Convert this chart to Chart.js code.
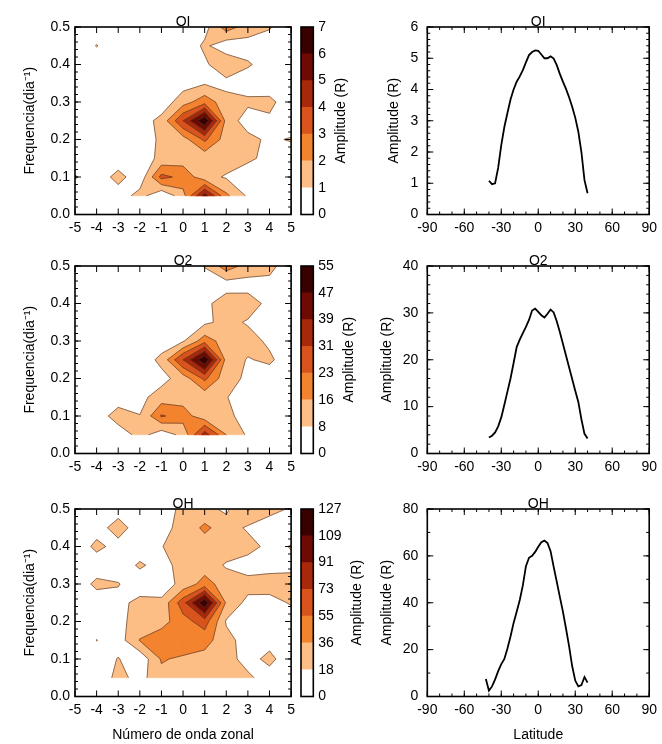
<!DOCTYPE html>
<html>
<head>
<meta charset="utf-8">
<title>Amplitudes OI, O2, OH</title>
<script src="https://cdn.jsdelivr.net/npm/chart.js@4.4.0/dist/chart.umd.min.js"></script>
<style>
  body { margin: 0; background: #fff; width: 662px; height: 744px; overflow: hidden; position: relative; }
  canvas { position: absolute; }
</style>
</head>
<body>
<script>
// ---- dados ----
const waveNumbers = [-5, -4, -3, -2, -1, 0, 1, 2, 3, 4, 5];
const frequencies = [0.05, 0.10, 0.15, 0.20, 0.25, 0.30, 0.35, 0.40, 0.45, 0.50];

const levelsOI = [0, 1, 2, 3, 4, 5, 6, 7];
const levelsO2 = [0, 8, 16, 23, 31, 39, 47, 55];
const levelsOH = [0, 18, 36, 55, 73, 91, 109, 127];

// amplitude (R) por frequencia (linhas, de 0.05 a 0.50) e numero de onda (colunas, de -5 a 5)
const ampOI = [
  [0.3, 0.3, 0.4, 1.4, 0.1, 1.6, 5.5, 2.2, 0.84, 0.3, 0.2],
  [1.1, 0.3, 1.4, 0.3, 3.3, 2.7, 1.33, 0.9, 0.4, 0.3, 0.3],
  [0.2, 0.2, 0.3, 0.5, 1.24, 1.5, 1.3, 1.5, 1.2, 0.7, 0.3],
  [0.1, 0.1, 0.2, 0.4, 1.2, 1.56, 3.2, 1.5, 1.3, 0.8, 1.1],
  [0.1, 0.1, 0.2, 0.5, 1.3, 4.0, 7.0, 1.6, 0.5, 0.8, 0.3],
  [0.1, 0.1, 0.1, 0.2, 0.4, 1.54, 2.6, 1.4, 1.2, 1.3, 0.3],
  [0.1, 0.1, 0.1, 0.1, 0.2, 0.6, 0.9, 0.67, 0.5, 0.3, 0.2],
  [0.1, 0.2, 0.1, 0.1, 0.1, 0.3, 0.8, 1.8, 1.1, 0.6, 0.2],
  [0.1, 1.05, 0.2, 0.1, 0.1, 0.2, 1.2, 0.35, 0.6, 0.4, 0.2],
  [0.1, 0.2, 0.1, 0.1, 0.1, 0.2, 0.6, 2.5, 1.5, 1.1, 0.3]
];
const ampO2 = [
  [1.6, 1.6, 2.4, 11.2, 3.2, 10.4, 35, 16, 6.7, 2.4, 1.6],
  [1.6, 2.4, 12.8, 8.2, 23.8, 19.5, 11.2, 10.4, 4, 2.4, 1.6],
  [0.8, 1.6, 2.4, 5.6, 12, 12.8, 11.2, 8.4, 3.2, 2.4, 1.6],
  [0.8, 0.8, 1.6, 1.6, 5.1, 12, 24.6, 11.2, 6.4, 3.2, 1.6],
  [0.8, 0.8, 0.8, 2.4, 10.4, 31, 54.5, 12.8, 7.4, 9.6, 2.4],
  [0.8, 0.8, 0.8, 1.6, 3.2, 7.2, 20.2, 12, 11.2, 6.4, 2.4],
  [0.8, 0.8, 0.8, 0.8, 1.6, 3.2, 6.4, 10.4, 7.2, 4, 1.6],
  [0.8, 0.8, 0.8, 0.8, 0.8, 2.4, 5.6, 12.8, 12, 5.6, 1.6],
  [0.8, 0.8, 0.8, 0.8, 0.8, 1.6, 4, 4, 4.8, 6.4, 2.4],
  [0.8, 0.8, 0.8, 0.8, 0.8, 1.6, 8.4, 20.2, 12.8, 9.6, 4.8]
];
const ampOH = [
  [3.6, 5.4, 23.4, 12, 30, 27, 28.8, 25.2, 21.6, 9, 3.6],
  [3.6, 5.4, 19, 5, 37.9, 32.4, 28.8, 25.2, 10.8, 23.4, 5.4],
  [3.6, 18.4, 9, 37, 47.4, 51.2, 43.6, 23.4, 10.8, 10.8, 7.2],
  [3.6, 5.4, 14.4, 23.4, 28.8, 47.4, 64, 16.2, 10.8, 9, 7.2],
  [3.6, 5.4, 12.6, 23.4, 21.6, 66.2, 125, 32.4, 12.6, 10.8, 19.8],
  [3.6, 23.4, 19, 7.2, 9, 23.4, 43.6, 27, 25.2, 27, 23.4],
  [3.6, 5.4, 7.2, 20.7, 10.8, 25.2, 27, 16.2, 9, 10.8, 14.4],
  [3.6, 23.4, 10.8, 7.2, 17.1, 28.8, 27, 27, 25.2, 12.6, 18.9],
  [3.6, 9, 27, 7.2, 12.6, 23.4, 39.8, 27, 15.3, 9, 9],
  [3.6, 5.4, 9, 5.4, 10.8, 21.6, 23.4, 14.4, 37.9, 23.4, 16.2]
];

// perfis em latitude
const latitudes = [-42.5, -40, -37.5, -35, -32.5, -30, -27.5, -25, -22.5, -20, -17.5, -15, -12.5, -10, -7.5, -5, -2.5,
  0, 2.5, 5, 7.5, 10, 12.5, 15, 17.5, 20, 22.5, 25, 27.5, 30, 32.5, 35, 37.5, 40];
const profileOI = [null, 1.08, 0.97, 1.0, 1.5, 2.22, 2.8, 3.25, 3.68, 4.0, 4.25, 4.42, 4.62, 4.87, 5.1, 5.2, 5.25,
  5.24, 5.12, 5.0, 5.0, 5.06, 4.99, 4.78, 4.5, 4.25, 4.02, 3.75, 3.45, 3.1, 2.65, 2.0, 1.1, 0.68];
const profileO2 = [null, 3.4, 3.8, 4.5, 5.8, 7.7, 10.4, 13.2, 16.0, 19.3, 22.7, 24.3, 25.7, 27.0, 28.5, 30.5, 30.9,
  30.2, 29.5, 29.0, 29.8, 30.7, 30.1, 28.2, 25.9, 23.4, 20.9, 18.4, 15.9, 13.4, 11.0, 7.3, 4.2, 3.2];
const profileOH = [7.5, 2.5, 4.3, 7.3, 10.8, 13.8, 16.0, 20.5, 25.6, 31.4, 36.2, 41.2, 47.4, 55.6, 59.2, 60.0, 61.7,
  63.9, 65.8, 66.5, 65.5, 62.0, 55.3, 49.0, 42.5, 36.2, 29.0, 21.5, 13.0, 6.8, 4.3, 4.9, 8.3, 5.9];

// ---- estilo / layout ----
const FONT = "'Liberation Sans', Arial, Helvetica, sans-serif";
const BAND_COLORS = ['#ffffff', '#fdbe86', '#f4832f', '#d9531c', '#a8280b', '#6e0a02', '#3a0000'];
const ROW_TOP = [27, 266, 509];
const PLOT_H = 187.5;
const PAGE_H = 744;

Chart.defaults.font.family = FONT;
Chart.defaults.font.size = 14;
Chart.defaults.color = '#000';

function addCanvas(left, top, w, h) {
  const c = document.createElement('canvas');
  c.width = w; c.height = h;
  c.style.left = left + 'px'; c.style.top = top + 'px';
  c.style.width = w + 'px'; c.style.height = h + 'px';
  document.body.appendChild(c);
  return c;
}

function steps(from, to, step) {
  const out = [];
  for (let v = from; v <= to + step / 1000; v += step) out.push(+v.toFixed(4));
  return out;
}

// contornos preenchidos (marching squares) desenhados pelas escalas do grafico
const contourPlugin = {
  id: 'contour',
  beforeDatasetsDraw(chart, args, o) {
    if (!o.grid) return;
    const { ctx, chartArea: a } = chart;
    const xs = chart.scales.x, ys = chart.scales.y;
    const z = o.grid, lv = o.levels;
    const P = (i, j) => [xs.getPixelForValue(waveNumbers[i]), ys.getPixelForValue(frequencies[j])];
    const cells = [];
    for (let j = 0; j < frequencies.length - 1; j++) {
      for (let i = 0; i < waveNumbers.length - 1; i++) {
        cells.push([[i, j], [i + 1, j], [i + 1, j + 1], [i, j + 1]]);
      }
    }
    ctx.save();
    ctx.beginPath();
    ctx.rect(a.left, a.top, a.width, a.height);
    ctx.clip();
    const lines = [];
    const addPoly = poly => {
      if (poly.length < 3) return;
      ctx.moveTo(poly[0][0], poly[0][1]);
      for (let p = 1; p < poly.length; p++) ctx.lineTo(poly[p][0], poly[p][1]);
      ctx.closePath();
    };
    for (let k = 1; k < lv.length - 1; k++) {
      const L = lv[k];
      ctx.beginPath();
      cells.forEach(c => {
        const vals = c.map(([i, j]) => z[j][i]);
        const pts = c.map(([i, j]) => P(i, j));
        const poly = [], cross = [], edgeCross = [];
        for (let e = 0; e < 4; e++) {
          const va = vals[e], vb = vals[(e + 1) % 4];
          const pa = pts[e], pb = pts[(e + 1) % 4];
          if (va >= L) poly.push(pa);
          edgeCross[e] = null;
          if ((va >= L) !== (vb >= L)) {
            const t = (L - va) / (vb - va);
            const q = [pa[0] + t * (pb[0] - pa[0]), pa[1] + t * (pb[1] - pa[1])];
            poly.push(q);
            cross.push({ q, exit: va >= L });
            edgeCross[e] = q;
          }
        }
        const centre = (vals[0] + vals[1] + vals[2] + vals[3]) / 4;
        if (cross.length === 4 && centre < L) {
          // ponto de sela: cantos altos separados
          for (let e = 0; e < 4; e++) {
            if (vals[e] >= L) {
              const qin = edgeCross[(e + 3) % 4], qout = edgeCross[e];
              addPoly([qin, pts[e], qout]);
              lines.push([qin, qout]);
            }
          }
        } else {
          addPoly(poly);
          cross.forEach((cr, m) => {
            if (cr.exit) lines.push([cr.q, cross[(m + 1) % cross.length].q]);
          });
        }
      });
      ctx.fillStyle = BAND_COLORS[k];
      ctx.strokeStyle = BAND_COLORS[k];
      ctx.lineWidth = 0.5;
      ctx.fill();
      ctx.stroke();
    }
    ctx.strokeStyle = 'rgba(90, 60, 40, 0.85)';
    ctx.lineWidth = 0.8;
    ctx.beginPath();
    lines.forEach(([p, q]) => { ctx.moveTo(p[0], p[1]); ctx.lineTo(q[0], q[1]); });
    ctx.stroke();
    ctx.restore();
  }
};

// caixa com marcas para dentro nos quatro lados (estilo IDL), titulos do painel e da barra de cores
const decorPlugin = {
  id: 'decor',
  afterDraw(chart, args, o) {
    const { ctx, chartArea: a } = chart;
    const xs = chart.scales.x, ys = chart.scales.y;
    ctx.save();
    ctx.strokeStyle = '#000';
    ctx.lineWidth = 1;
    ctx.beginPath();
    const xmarks = (vals, len) => (vals || []).forEach(v => {
      const p = xs.getPixelForValue(v);
      ctx.moveTo(p, a.bottom); ctx.lineTo(p, a.bottom - len);
      ctx.moveTo(p, a.top); ctx.lineTo(p, a.top + len);
    });
    const ymarks = (vals, len) => (vals || []).forEach(v => {
      const p = ys.getPixelForValue(v);
      ctx.moveTo(a.left, p); ctx.lineTo(a.left + len, p);
      ctx.moveTo(a.right, p); ctx.lineTo(a.right - len, p);
    });
    xmarks(o.xMajor, 6); xmarks(o.xMinor, 3);
    ymarks(o.yMajor, 6); ymarks(o.yMinor, 3);
    ctx.stroke();
    ctx.lineWidth = 1.6;
    ctx.strokeRect(a.left, a.top, a.right - a.left, a.bottom - a.top);

    ctx.fillStyle = '#000';
    ctx.font = '14px ' + FONT;
    if (o.title) {
      ctx.textAlign = 'center';
      ctx.textBaseline = 'alphabetic';
      ctx.fillText(o.title, (a.left + a.right) / 2, a.top - 1);
    }
    if (o.side) {
      const maxw = Math.max(...o.sideLabels.map(t => ctx.measureText(String(t)).width));
      ctx.translate(a.right + 5 + maxw + 15, (a.top + a.bottom) / 2);
      ctx.rotate(-Math.PI / 2);
      ctx.textAlign = 'center';
      ctx.textBaseline = 'middle';
      ctx.fillText(o.side, 0, 0);
    }
    ctx.restore();
  }
};

Chart.register(contourPlugin, decorPlugin);

const baseOpts = { responsive: false, animation: false, events: [] };
const noGrid = { display: false, drawTicks: false, tickLength: 0 };

function contourPanel(row, title, grid, levels) {
  const top = ROW_TOP[row] - 27;
  const h = row === 2 ? PAGE_H - top : 240;
  const cv = addCanvas(0, top, 300, h);
  new Chart(cv, {
    type: 'scatter',
    data: { datasets: [] },
    options: {
      ...baseOpts,
      layout: { padding: { top: 27, right: 7, left: 0, bottom: 0 } },
      scales: {
        x: {
          type: 'linear', min: -5, max: 5,
          grid: noGrid, border: { display: false },
          ticks: { stepSize: 1, padding: 5, autoSkip: false, maxRotation: 0 },
          title: { display: row === 2, text: 'Número de onda zonal', padding: { top: 0, bottom: 0 } },
          afterFit: s => { s.height = h - 27 - PLOT_H; }
        },
        y: {
          type: 'linear', min: 0, max: 0.5,
          grid: noGrid, border: { display: false },
          ticks: { stepSize: 0.1, padding: 5, callback: v => v.toFixed(1) },
          title: { display: true, text: 'Frequencia(dia⁻¹)', padding: { top: 21.6, bottom: 0 } },
          afterFit: s => { s.width = 75; }
        }
      },
      plugins: {
        legend: { display: false }, tooltip: { enabled: false },
        contour: { grid, levels },
        decor: { title, xMajor: waveNumbers, yMajor: steps(0, 0.5, 0.1), yMinor: steps(0, 0.5, 0.02) }
      }
    }
  });
}

function colorbarPanel(row, levels) {
  const top = ROW_TOP[row] - 27;
  const w = 76, h = 240;
  const cv = addCanvas(296, top, w, h);
  new Chart(cv, {
    type: 'bar',
    data: {
      labels: [''],
      datasets: levels.slice(1).map((lv, k) => ({
        data: [1], backgroundColor: BAND_COLORS[k], borderWidth: 0,
        barPercentage: 1, categoryPercentage: 1
      }))
    },
    options: {
      ...baseOpts,
      layout: { padding: { top: 27, left: 5, right: 0, bottom: h - 27 - PLOT_H } },
      scales: {
        x: { display: false, stacked: true },
        y: {
          stacked: true, position: 'right', min: 0, max: levels.length - 1,
          grid: noGrid, border: { display: false },
          ticks: { stepSize: 1, padding: 5, callback: v => levels[v] },
          afterFit: s => { s.width = w - 5 - 12.3; }
        }
      },
      plugins: {
        legend: { display: false }, tooltip: { enabled: false },
        decor: { side: 'Amplitude (R)', sideLabels: levels }
      }
    }
  });
}

function profilePanel(row, title, values, yMax, yStep, yMinorStep, titleX) {
  const top = ROW_TOP[row] - 27;
  const h = row === 2 ? PAGE_H - top : 240;
  const cv = addCanvas(340, top, 322, h);
  const points = latitudes.map((lat, i) => ({ x: lat, y: values[i] })).filter(p => p.y !== null);
  new Chart(cv, {
    type: 'scatter',
    data: {
      datasets: [{
        data: points, showLine: true, borderColor: '#000', borderWidth: 1.8,
        pointRadius: 0, tension: 0, fill: false
      }]
    },
    options: {
      ...baseOpts,
      layout: { padding: { top: 27, right: 6.3, left: 0, bottom: 0 } },
      scales: {
        x: {
          type: 'linear', min: -90, max: 90,
          grid: noGrid, border: { display: false },
          ticks: { stepSize: 30, padding: 5, autoSkip: false, maxRotation: 0 },
          title: { display: row === 2, text: 'Latitude', padding: { top: 0, bottom: 0 } },
          afterFit: s => { s.height = h - 27 - PLOT_H; }
        },
        y: {
          type: 'linear', min: 0, max: yMax,
          grid: noGrid, border: { display: false },
          ticks: { stepSize: yStep, padding: 9 },
          title: { display: true, text: 'Amplitude (R)', padding: { top: titleX - 8.4, bottom: 0 } },
          afterFit: s => { s.width = 87.3; }
        }
      },
      plugins: {
        legend: { display: false }, tooltip: { enabled: false },
        decor: {
          title,
          xMajor: steps(-90, 90, 30), xMinor: steps(-90, 90, 10),
          yMajor: steps(0, yMax, yStep), yMinor: steps(0, yMax, yMinorStep)
        }
      }
    }
  });
}

contourPanel(0, 'OI', ampOI, levelsOI);
colorbarPanel(0, levelsOI);
profilePanel(0, 'OI', profileOI, 6, 1, 0.2, 54.5);

contourPanel(1, 'O2', ampO2, levelsO2);
colorbarPanel(1, levelsO2);
profilePanel(1, 'O2', profileO2, 40, 10, 2, 46.7);

contourPanel(2, 'OH', ampOH, levelsOH);
colorbarPanel(2, levelsOH);
profilePanel(2, 'OH', profileOH, 80, 20, 10, 46.7);
</script>
</body>
</html>
